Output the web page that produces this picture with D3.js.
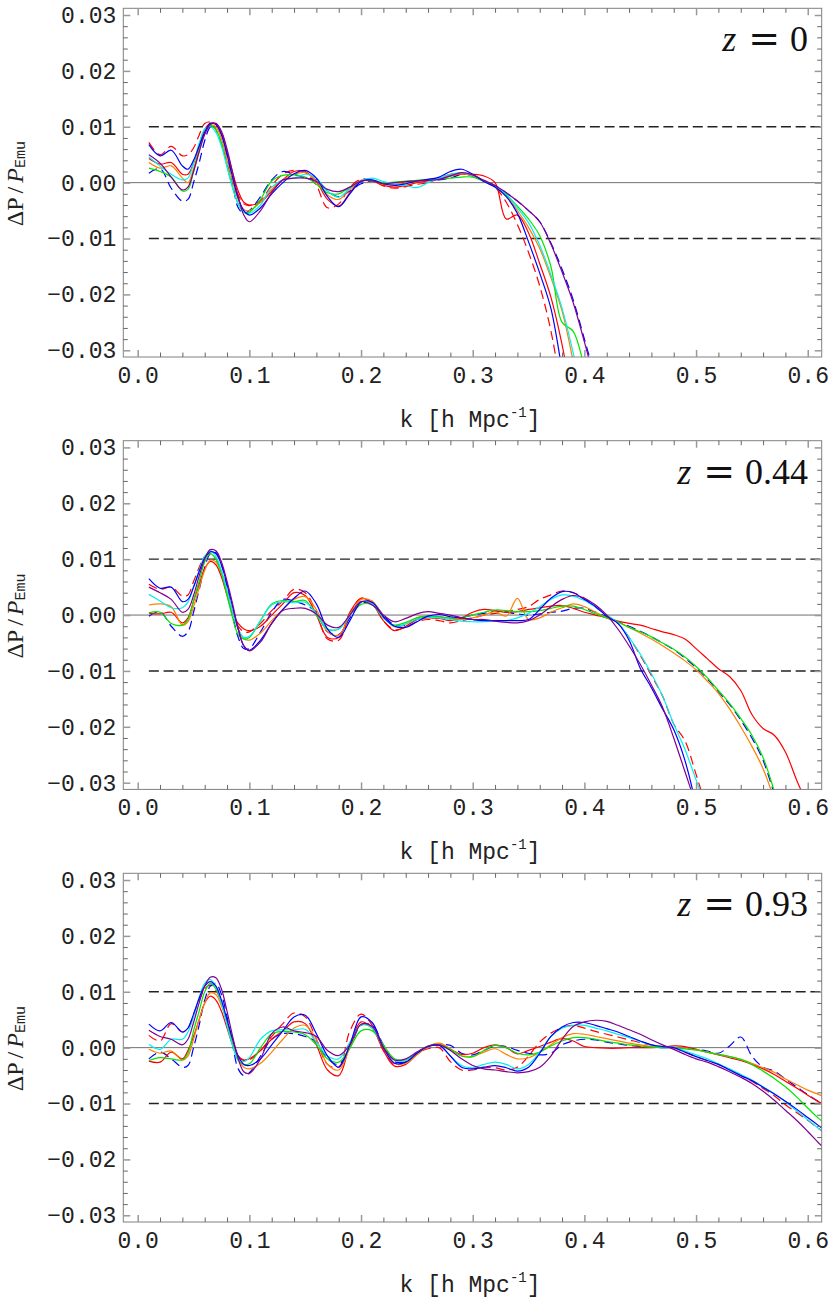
<!DOCTYPE html>
<html><head><meta charset="utf-8">
<script src="https://cdn.jsdelivr.net/npm/d3@7"></script>
<style>body{margin:0;background:#fff}</style>
</head><body>
<svg id="c" width="830" height="1303" xmlns="http://www.w3.org/2000/svg"></svg>
<script>
// k grid [h/Mpc]
const K = [0.01,0.02,0.03,0.04,0.045,0.05,0.055,0.06,0.065,0.07,0.075,0.08,0.085,0.09,0.095,
 0.10,0.11,0.12,0.13,0.14,0.15,0.16,0.17,0.18,0.19,
 0.20,0.21,0.22,0.23,0.24,0.25,0.26,0.27,0.28,0.29,
 0.30,0.31,0.32,0.33,0.34,0.35,0.36,0.37,0.38,0.39,
 0.40,0.41,0.42,0.43,0.44,0.45,0.46,0.47,0.48,0.49,
 0.50,0.51,0.52,0.53,0.54,0.55,0.56,0.57,0.58,0.59,
 0.60,0.61,0.62];
const XTICKS = [0.0,0.1,0.2,0.3,0.4,0.5,0.6];
const YTICKS = [-0.03,-0.02,-0.01,0.00,0.01,0.02,0.03];
const REDSHIFTS = ["0","0.44","0.93"];
const BAND = [0.01,-0.01];

// values of ΔP/P in units of 1e-3
// ---- z = 0 ----
const Rd1 = [7.2,5.0,6.5,4.8,5.0,6.2,8.5,10.6,10.8,9.5,7.0,3.5,0.5,-2.2,-3.8,
 -4.1,-3.2,-0.5,1.5,2.2,1.8,-0.5,-4.5,-3.8,-0.8,
 0.6,0.4,-0.6,-1.0,-0.7,-0.3,0.0,0.8,1.5,1.6,
 1.2,0.3,-0.8,-3.5,-7.5,-12.5,-18.5,-26.5,-38];
const B1 = [6.8,4.8,5.8,3.0,2.4,4.0,6.5,9.0,10.6,10.4,8.5,5.0,1.0,-2.8,-5.0,
 -5.8,-4.5,-2.0,0.0,1.6,2.2,0.8,-2.5,-4.3,-2.0,
 0.2,0.5,-0.2,-0.5,-0.2,0.3,0.6,1.0,2.0,2.4,
 1.5,0.2,-0.8,-2.5,-5.5,-10.6,-16.2,-22.5,-33.5,-45];
const R1 = [4.3,3.3,3.6,1.5,1.5,3.5,6.5,9.5,10.6,10.5,8.8,5.5,1.8,-1.5,-3.5,
 -4.0,-3.5,-1.5,0.5,2.0,2.0,0.2,-3.0,-4.2,-1.8,
 0.4,0.3,-0.5,-0.8,-0.5,0.0,0.3,0.7,1.2,1.5,
 1.5,1.2,0.0,-6.5,-5.8,-9.0,-14.5,-20.5,-29,-40];
const O1 = [3.6,2.6,3.0,0.8,0.0,2.5,6.0,9.0,10.3,10.0,7.8,4.0,0.2,-3.0,-4.8,
 -5.0,-3.5,-1.2,0.5,1.5,1.8,0.3,-2.2,-3.0,-1.2,
 0.3,0.3,-0.3,-0.3,0.0,0.2,0.4,0.7,1.2,1.6,
 1.2,0.4,-0.6,-2.2,-5.0,-8.0,-11.8,-17,-23,-32,
 -42];
const G1 = [2.6,2.0,1.0,-1.5,-1.2,2.0,5.5,8.8,10.2,9.5,7.0,3.0,-0.8,-3.8,-5.3,
 -5.3,-3.0,0.3,1.3,1.4,1.0,-0.3,-1.8,-2.0,-0.8,
 0.3,0.4,0.0,0.1,0.3,0.4,0.6,0.7,0.8,1.0,
 1.0,0.2,-0.8,-2.2,-4.2,-6.5,-9.5,-15,-25,-26.6,
 -33,-40];
const C1 = [4.6,3.0,1.5,0.5,0.8,3.5,7.0,9.6,10.0,9.0,6.5,2.8,-1.0,-3.8,-5.3,
 -5.5,-4.0,-0.8,0.5,0.8,1.5,0.8,-1.5,-2.6,-1.0,
 0.3,0.8,0.2,-0.2,-0.5,-0.9,0.0,0.8,1.5,1.8,
 1.3,0.3,-0.7,-2.0,-4.5,-7.2,-11.2,-16.5,-22.5,-30.5,
 -40];
const Bd1 = [1.7,2.5,-1.0,-3.3,-3.0,0.0,3.5,7.5,10.0,10.5,9.0,5.0,0.0,-4.5,-5.5,
 -5.0,-2.5,0.5,2.0,1.5,0.8,0.5,-1.5,-2.5,-1.5,
 -0.2,0.3,0.0,-0.3,0.0,0.2,0.5,0.5,0.8,1.5,
 1.2,0.3,-0.5,-1.8,-3.3,-5.0,-7.0,-10.8,-15.5,-21,
 -28,-35];
const P1 = [5.0,3.5,1.0,-1.3,-0.8,2.0,5.5,8.6,10.4,10.6,9.2,6.0,1.8,-2.5,-5.8,
 -7.0,-5.0,-1.8,0.5,0.8,0.8,0.2,-1.2,-1.6,-0.8,
 0.3,0.3,-0.2,0.0,0.2,0.3,0.4,0.6,1.2,1.8,
 1.4,0.4,-0.5,-1.8,-3.3,-5.0,-7.0,-11,-16,-21.5,
 -28.5,-36];
// ---- z = 0.44 ----
const Rd2 = [5.5,4.6,5.0,3.4,3.6,6.0,8.5,10.5,11.0,10.0,7.5,4.0,0.5,-2.0,-3.0,
 -3.0,-1.5,0.8,2.5,4.6,4.0,0.5,-4.3,-4.5,0.0,
 3.0,2.2,-1.0,-2.6,-2.2,-1.2,-0.8,-1.0,-1.4,-1.0,
 -0.5,0.0,0.3,0.6,1.0,1.5,2.8,3.6,4.3,4.0,
 3.0,1.5,0.0,-1.5,-4.0,-7.2,-10.8,-14.5,-19.5,-22.5,
 -28.5,-35];
const B2 = [6.5,4.8,5.0,2.4,2.8,5.0,7.8,10.2,11.3,11.0,9.0,5.5,1.5,-2.5,-5.5,
 -6.3,-4.5,-1.5,1.0,3.0,4.3,2.0,-2.5,-4.0,-1.0,
 2.3,2.3,-0.3,-2.0,-2.2,-1.2,-0.2,0.1,-0.3,-0.5,
 -0.8,-1.0,-1.0,-1.0,-1.0,-0.8,1.0,3.0,4.2,4.0,
 2.8,1.5,-0.2,-1.5,-4.5,-9.5,-13.0,-16.8,-20.5,-26,
 -34];
const R2 = [0.3,0.2,0.5,-1.4,-0.5,2.5,5.5,8.3,9.6,9.0,6.8,3.5,0.3,-1.5,-2.5,
 -2.8,-2.0,0.0,2.0,4.0,3.5,0.0,-4.0,-4.0,0.5,
 3.0,2.0,-1.0,-2.8,-2.0,-0.8,-0.5,-0.6,-1.0,-0.5,
 0.5,1.0,0.8,0.5,0.6,1.0,1.3,1.6,1.7,1.2,
 0.5,0.0,-0.5,-1.1,-1.5,-1.8,-2.4,-3.0,-3.5,-4.3,
 -6.0,-7.8,-9.6,-11.0,-13.5,-17.8,-20.3,-21.5,-24.5,-29.5,
 -34];
const O2 = [1.8,2.0,1.5,-1.8,-1.2,1.5,4.8,8.0,9.8,9.5,7.5,4.0,0.5,-2.5,-4.2,
 -4.5,-3.2,-1.0,1.0,2.8,3.3,1.0,-3.0,-3.6,0.0,
 2.8,2.5,-0.2,-2.1,-1.6,-0.5,-0.2,-0.3,-0.6,-0.8,
 -0.5,0.0,0.6,-0.2,3.0,-0.8,-0.5,0.5,1.3,2.0,
 1.5,0.5,-0.5,-1.3,-2.2,-3.2,-4.3,-5.5,-6.8,-8.2,
 -9.8,-11.8,-14.0,-16.8,-20.0,-23.5,-27.5,-33];
const G2 = [0.4,0.5,-1.5,-1.8,-0.8,2.5,6.0,9.5,11.0,10.0,7.5,3.5,-0.5,-3.5,-4.3,
 -4.0,-1.0,2.0,2.6,2.4,2.6,0.0,-2.5,-2.5,0.0,
 1.9,1.8,-0.5,-1.8,-1.3,-0.5,-0.2,-0.3,-0.5,-0.4,
 0.0,0.5,0.9,0.8,0.6,0.6,0.8,1.2,1.6,1.6,
 1.0,0.2,-0.5,-1.2,-2.2,-3.0,-3.9,-5.0,-6.1,-7.5,
 -9.2,-11.2,-13.5,-15.8,-18.5,-21.5,-25.5,-31.5];
const C2 = [3.7,2.5,1.3,1.3,2.3,5.0,8.0,10.5,11.5,10.5,8.0,4.5,0.5,-2.5,-4.0,
 -3.8,-1.0,1.8,2.4,2.2,2.3,0.3,-2.5,-2.5,0.0,
 2.4,2.0,-0.5,-2.0,-1.6,-0.8,-0.4,-0.5,-0.8,-1.1,
 -1.2,-1.2,-1.1,-1.0,-0.5,0.3,1.5,2.8,3.6,3.4,
 2.6,1.4,0.0,-1.4,-4.0,-7.0,-10.5,-14.5,-19.5,-24.0,
 -29.5,-35];
const Bd2 = [-0.2,0.6,-2.0,-3.8,-3.0,0.5,4.5,8.5,11.0,11.2,9.0,5.0,0.0,-4.0,-6.0,
 -6.0,-3.0,0.5,2.8,2.5,1.8,0.5,-3.0,-3.5,-0.5,
 2.0,2.2,0.0,-1.8,-1.8,-0.8,-0.2,-0.3,-0.6,-0.4,
 0.0,0.3,0.7,0.5,0.2,0.0,0.2,0.5,0.7,1.2,
 1.2,0.5,-0.3,-1.2,-2.0,-2.9,-3.9,-5.0,-6.2,-7.7,
 -9.4,-11.4,-13.7,-16.0,-18.8,-22.0,-26.0,-32];
const P2 = [5.0,4.0,2.8,0.5,1.0,3.5,7.0,10.0,11.7,11.5,9.5,6.0,2.0,-2.5,-5.5,
 -6.4,-4.8,-1.5,0.8,1.2,1.2,0.2,-1.8,-2.2,0.0,
 2.4,1.8,0.0,-1.2,-0.6,0.2,0.6,0.3,0.0,-0.5,
 -0.8,-0.8,-1.1,-1.3,-1.4,-1.0,0.0,1.5,2.8,3.5,
 3.0,1.8,0.0,-2.5,-5.5,-8.8,-12.5,-16.5,-22,-28,
 -34];
// ---- z = 0.93 ----
const Rd3 = [2.2,1.2,4.3,2.8,3.5,6.0,8.5,10.5,11.2,10.3,8.0,4.5,1.0,-1.5,-2.3,
 -2.2,-0.5,2.0,4.3,6.2,5.5,1.5,-3.0,-3.5,3.0,
 6.0,4.0,-0.5,-3.0,-2.5,-1.0,-0.2,0.0,-2.5,-4.0,
 -4.0,-3.6,-3.6,-4.0,-3.5,-1.5,1.0,2.6,3.6,4.0,
 3.5,2.9,2.4,1.9,1.4,0.9,0.5,0.2,0.0,-0.8,
 -1.6,-2.3,-3.0,-3.9,-4.9,-6.0,-7.3,-8.6,-10.2,-11.6,
 -13.0,-14.5,-16];
const B3 = [4.2,3.0,4.5,2.8,3.5,6.0,8.8,11.0,11.8,11.0,8.5,5.0,1.5,-1.5,-3.0,
 -3.2,-2.0,0.5,3.0,5.5,5.8,2.5,-1.5,-3.5,0.5,
 5.5,4.5,0.0,-2.8,-2.6,-1.0,0.2,0.4,-1.5,-3.5,
 -3.8,-3.5,-3.2,-3.6,-4.2,-3.5,-1.0,2.0,3.7,4.5,
 4.5,4.0,3.4,2.8,2.0,1.2,0.5,0.2,0.0,-0.8,
 -1.6,-2.3,-3.0,-4.0,-5.0,-5.9,-7.1,-8.3,-9.6,-11.0,
 -12.5,-14.0,-15.5];
const R3 = [-2.4,-2.6,-0.8,-2.0,-0.5,2.0,5.0,8.0,9.2,8.5,6.5,3.5,0.5,-1.5,-2.2,
 -2.0,-0.5,1.5,3.0,4.6,4.3,0.5,-4.0,-5.0,0.5,
 4.6,3.5,-0.5,-3.3,-3.0,-1.2,0.2,0.6,-0.3,-1.2,
 -1.0,0.0,0.5,0.0,-1.1,-0.5,0.2,1.0,1.6,1.2,
 0.2,0.0,-0.1,-0.1,0.0,0.0,0.0,0.1,0.3,0.2,
 -0.3,-0.8,-1.3,-1.8,-2.3,-3.0,-3.8,-4.8,-6.0,-7.2,
 -8.5,-9.7,-10.8];
const O3 = [-0.3,-1.0,-0.6,-2.2,-1.5,1.5,5.0,8.0,9.8,9.5,7.5,4.5,1.0,-2.0,-3.5,
 -3.8,-2.8,-0.8,1.5,3.5,4.0,1.5,-3.0,-4.0,0.0,
 4.2,3.5,0.3,-2.8,-2.8,-1.3,0.2,0.8,-0.2,-1.5,
 -1.6,-0.8,-0.2,-1.2,-2.0,-1.8,-0.8,0.5,1.8,2.5,
 2.4,2.0,1.6,1.2,0.8,0.5,0.2,0.1,0.0,-0.2,
 -0.4,-0.8,-1.2,-1.6,-2.1,-2.8,-3.6,-4.4,-5.6,-6.6,
 -7.6,-8.4,-9.2];
const G3 = [-2.3,-1.8,-2.0,-2.2,-1.0,3.0,6.5,10.0,11.5,10.5,8.0,4.5,0.5,-2.3,-3.0,
 -2.9,0.0,2.5,2.9,2.8,2.3,0.5,-2.0,-2.6,0.0,
 3.0,3.0,0.5,-2.0,-2.2,-1.0,0.2,0.5,-0.3,-1.5,
 -1.6,-0.5,0.4,0.0,-1.0,-1.3,-0.8,0.3,1.2,1.8,
 1.8,1.5,1.1,0.8,0.5,0.3,0.1,0.0,0.0,-0.2,
 -0.4,-0.8,-1.2,-1.6,-2.1,-3.0,-4.2,-5.5,-7.0,-8.8,
 -10.8,-12.7,-14.3];
const C3 = [0.6,-0.3,1.5,1.5,2.8,5.5,9.0,11.5,12.2,11.0,8.0,4.0,0.3,-2.0,-2.5,
 -1.8,1.5,3.0,3.2,3.2,3.3,1.0,-1.5,-2.0,1.0,
 4.0,3.5,0.0,-2.3,-2.3,-1.0,0.3,0.5,-1.5,-3.2,
 -3.6,-3.0,-2.6,-3.0,-3.8,-3.0,-0.8,2.0,3.5,4.0,
 4.0,3.5,3.0,2.4,1.8,1.1,0.5,0.2,0.0,-0.6,
 -1.3,-2.0,-2.9,-3.8,-4.8,-5.8,-7.0,-8.2,-9.7,-11.3,
 -12.9,-14.5,-16.0];
const Bd3 = [-2.0,-0.8,-2.0,-3.5,-3.2,0.0,4.0,8.5,11.0,11.5,9.5,5.5,0.5,-3.8,-5.0,
 -4.5,-1.5,1.5,2.5,2.5,2.0,1.0,-2.0,-3.0,0.0,
 4.0,4.0,0.5,-2.5,-2.5,-1.2,0.2,0.5,0.4,-1.0,
 -1.3,-0.5,0.3,0.2,-0.5,-1.0,-1.3,-1.0,0.5,1.2,
 1.5,1.4,1.0,0.7,0.4,0.2,0.1,0.0,0.0,-0.2,
 -0.3,-0.6,-1.0,0.3,1.9,-1.5,-3.5,-4.2,-5.6,-7.0,
 -8.4,-9.7,-11];
const P3 = [3.1,2.0,1.5,0.5,1.5,4.5,8.0,11.0,12.6,12.5,10.5,6.5,2.0,-2.0,-4.3,
 -4.6,-2.0,2.5,3.7,3.0,2.7,2.0,-0.5,-1.4,0.5,
 4.2,3.8,0.0,-2.2,-2.0,-0.8,0.3,0.5,-0.5,-2.0,
 -3.2,-3.8,-4.0,-4.3,-4.5,-4.3,-3.5,-1.5,1.5,3.8,
 4.6,4.9,4.7,4.0,3.2,2.4,1.4,0.5,-0.3,-1.2,
 -2.0,-2.6,-3.4,-4.3,-5.3,-6.4,-7.8,-9.4,-11.2,-13.0,
 -15.0,-17.1,-19];

const PANEL_DATA = [
  {Rd:Rd1, Bd:Bd1, R:R1, O:O1, G:G1, C:C1, B:B1, P:P1},
  {Rd:Rd2, Bd:Bd2, R:R2, O:O2, G:G2, C:C2, B:B2, P:P2},
  {Rd:Rd3, Bd:Bd3, R:R3, O:O3, G:G3, C:C3, B:B3, P:P3}
];
const SERIES = [
  {key:"Rd", color:"#ff0000", dash:"9,5"},
  {key:"Bd", color:"#0000ff", dash:"9,5"},
  {key:"R",  color:"#ff0000", dash:null},
  {key:"O",  color:"#ff8000", dash:null},
  {key:"G",  color:"#00e600", dash:null},
  {key:"C",  color:"#00f0f0", dash:null},
  {key:"B",  color:"#0000ff", dash:null},
  {key:"P",  color:"#800090", dash:null}
];

const svg = d3.select("#c");
const L = 123.3, R = 821.7, H = 348.7;
const TOPS = [8.3, 440.7, 873.3];
const MONO = "'Liberation Mono','Courier New',monospace";
const SERIF = "'Liberation Serif','Times New Roman',serif";
const x = d3.scaleLinear().domain([-0.0129, 0.6125]).range([L, R]);

function styleAxis(sel, color, width, withText){
  sel.select(".domain").remove();
  sel.selectAll(".tick line").attr("stroke", color).attr("stroke-width", width);
  if (withText) sel.selectAll(".tick text").attr("font-family", MONO).attr("font-size", 23).attr("fill", "#222");
  else sel.selectAll(".tick text").remove();
}

PANEL_DATA.forEach((data, i) => {
  const T = TOPS[i];
  const y = d3.scaleLinear().domain([-0.0312, 0.0312]).range([T + H, T]);
  const g = svg.append("g");
  const cid = "clip" + i;
  svg.append("defs").append("clipPath").attr("id", cid)
    .append("rect").attr("x", L).attr("y", T).attr("width", R - L).attr("height", H);

  // reference lines
  g.append("line").attr("x1", L).attr("x2", R).attr("y1", y(0)).attr("y2", y(0))
    .attr("stroke", "#707070").attr("stroke-width", 1);
  BAND.forEach(v => g.append("line").attr("x1", x(K[0])).attr("x2", R).attr("y1", y(v)).attr("y2", y(v))
    .attr("stroke", "#222").attr("stroke-width", 1.4).attr("stroke-dasharray", "10,4.7"));

  // curves
  const line = d3.line().x((d, j) => x(K[j])).y(d => y(d * 1e-3)).curve(d3.curveCatmullRom.alpha(0.5));
  const lg = g.append("g").attr("clip-path", `url(#${cid})`);
  SERIES.forEach(s => {
    lg.append("path").attr("d", line(data[s.key])).attr("fill", "none")
      .attr("stroke", s.color).attr("stroke-width", 1.2)
      .attr("stroke-dasharray", s.dash);
  });

  // frame
  g.append("rect").attr("x", L).attr("y", T).attr("width", R - L).attr("height", H)
    .attr("fill", "none").attr("stroke", "#808080").attr("stroke-width", 1);

  // minor ticks
  const yMinor = y.ticks(30).filter(v => !YTICKS.some(t => Math.abs(t - v) < 1e-9));
  const xMinor = x.ticks(30).filter(v => !XTICKS.some(t => Math.abs(t - v) < 1e-9) && v > -0.0129);
  g.append("g").attr("transform", `translate(${L},0)`).call(d3.axisLeft(y).tickValues(yMinor).tickSize(-4.5).tickFormat(""))
    .call(s => styleAxis(s, "#666", 1, false));
  g.append("g").attr("transform", `translate(${R},0)`).call(d3.axisRight(y).tickValues(yMinor).tickSize(-4.5).tickFormat(""))
    .call(s => styleAxis(s, "#666", 1, false));
  g.append("g").attr("transform", `translate(0,${T})`).call(d3.axisTop(x).tickValues(xMinor).tickSize(-4.5).tickFormat(""))
    .call(s => styleAxis(s, "#666", 1, false));
  g.append("g").attr("transform", `translate(0,${T + H})`).call(d3.axisBottom(x).tickValues(xMinor).tickSize(-4.5).tickFormat(""))
    .call(s => styleAxis(s, "#666", 1, false));

  // major ticks + labels
  g.append("g").attr("transform", `translate(${L},0)`)
    .call(d3.axisLeft(y).tickValues(YTICKS).tickSize(-7).tickPadding(7).tickFormat(d3.format(".2f")))
    .call(s => styleAxis(s, "#999", 1.5, true));
  g.append("g").attr("transform", `translate(${R},0)`)
    .call(d3.axisRight(y).tickValues(YTICKS).tickSize(-7).tickFormat(""))
    .call(s => styleAxis(s, "#999", 1.5, false));
  g.append("g").attr("transform", `translate(0,${T})`)
    .call(d3.axisTop(x).tickValues(XTICKS).tickSize(-7).tickFormat(""))
    .call(s => styleAxis(s, "#999", 1.5, false));
  g.append("g").attr("transform", `translate(0,${T + H})`)
    .call(d3.axisBottom(x).tickValues(XTICKS).tickSize(-7).tickPadding(9.5).tickFormat(d3.format(".1f")))
    .call(s => styleAxis(s, "#999", 1.5, true));

  // x label
  const xl = g.append("text").attr("x", 470).attr("y", T + H + 70).attr("text-anchor", "middle")
    .attr("font-family", MONO).attr("font-size", 23).attr("fill", "#222").attr("xml:space", "preserve");
  xl.append("tspan").text("k [h Mpc");
  xl.append("tspan").attr("font-size", 14).attr("dy", -10).text("-1");
  xl.append("tspan").attr("dy", 10).text("]");

  // y label
  const yl = g.append("text").attr("transform", `translate(23,${T + H / 2 + 1}) rotate(-90)`)
    .attr("text-anchor", "middle").attr("font-family", SERIF).attr("font-size", 24).attr("fill", "#222");
  yl.append("tspan").text("ΔP");
  yl.append("tspan").attr("dx", 4).text("/");
  yl.append("tspan").attr("dx", 4).attr("font-style", "italic").text("P");
  yl.append("tspan").attr("font-family", MONO).attr("font-size", 15).attr("dy", 2).text("Emu");

  // redshift label
  const zl = g.append("text").attr("x", 808).attr("y", T + 43).attr("text-anchor", "end")
    .attr("font-family", SERIF).attr("font-size", 36).attr("fill", "#111");
  zl.append("tspan").attr("font-style", "italic").text("z");
  zl.append("tspan").attr("dx", 12).attr("font-family", "'DejaVu Sans',sans-serif").attr("font-size", 38).text("=");
  zl.append("tspan").attr("dx", 10).text(REDSHIFTS[i]);
});
</script>
</body></html>
